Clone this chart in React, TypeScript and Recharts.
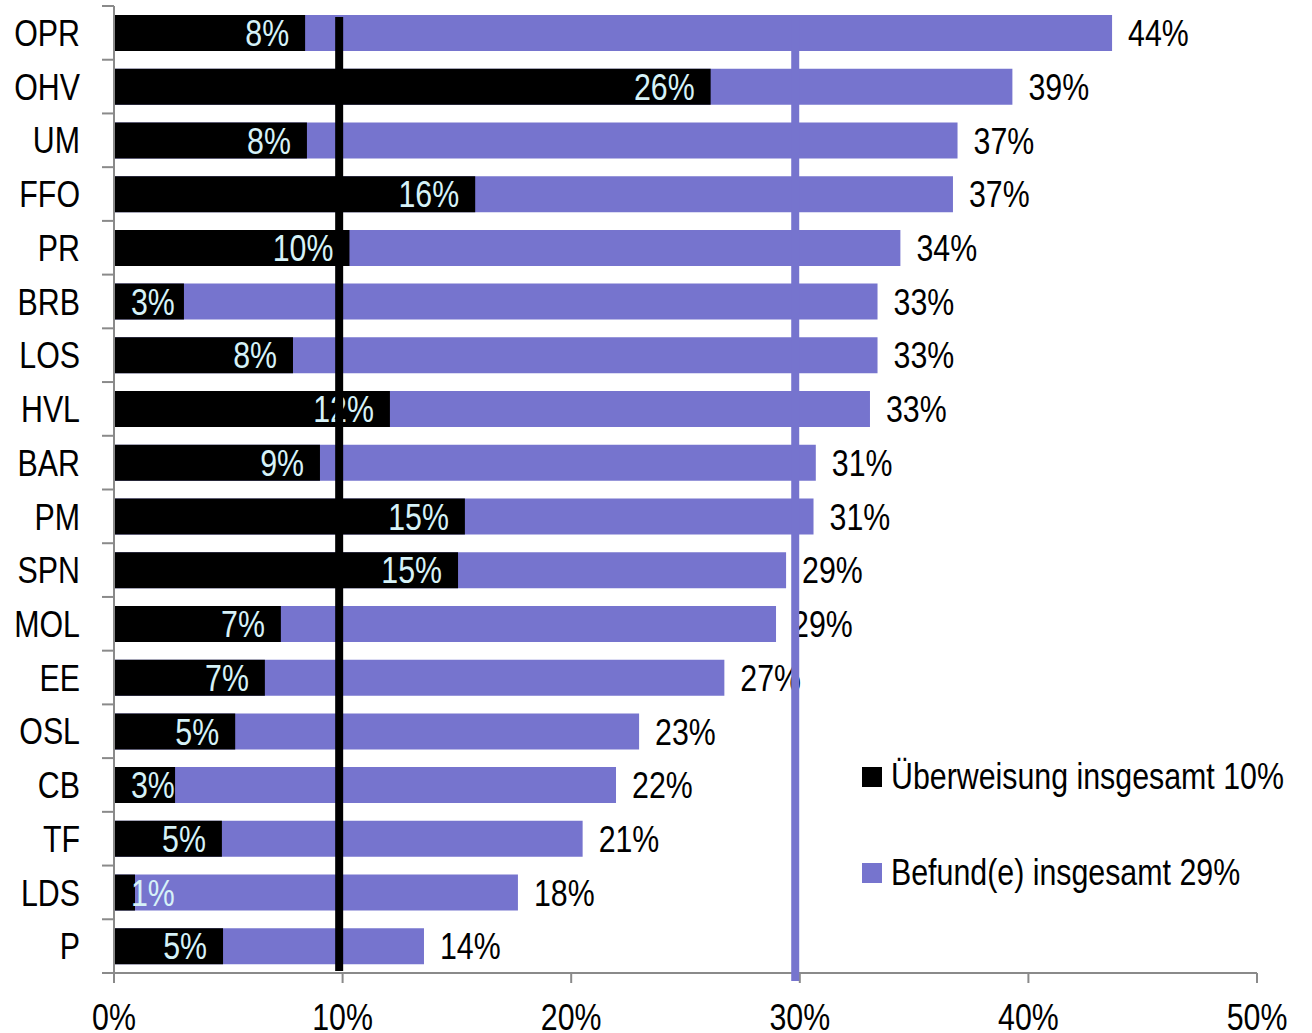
import React from "react";
import {
  BarChart,
  Bar,
  XAxis,
  YAxis,
  ReferenceLine,
  LabelList,
  Legend,
} from "recharts";

const categories = ["OPR", "OHV", "UM", "FFO", "PR", "BRB", "LOS", "HVL", "BAR", "PM", "SPN", "MOL", "EE", "OSL", "CB", "TF", "LDS", "P"];
const ueberweisung = [8.36, 26.1, 8.44, 15.8, 10.3, 3.06, 7.83, 12.07, 9.01, 15.35, 15.05, 7.3, 6.6, 5.3, 2.67, 4.72, 0.92, 4.77];
const befund = [43.66, 39.3, 36.9, 36.7, 34.4, 33.4, 33.4, 33.07, 30.7, 30.6, 29.4, 28.96, 26.7, 22.97, 21.96, 20.5, 17.67, 13.56];
const xTicks = [0, 10, 20, 30, 40, 50];
const seriesNames = ["Überweisung insgesamt 10%", "Befund(e) insgesamt 29%"];
const avgUeberweisung = 9.85;
const avgBefund = 29.8;

const data = categories.map((name, i) => ({ name, u: ueberweisung[i], b: befund[i] }));

const FONT = "'Liberation Sans', Arial, sans-serif";
const FS = 37;
const SX = 0.82;
const PURPLE = "#7674CE";
const AXIS = "#8a8a8a";
const LIGHT = "#D6F2F8";

const pct = (v: number) => `${Math.round(v)}%`;

const NText = ({ x, y, anchor, fill, dy, children }: any) => (
  <g transform={`translate(${x},${y}) scale(${SX},1)`}>
    <text x={0} y={0} dy={dy} textAnchor={anchor} fill={fill} fontSize={FS} fontFamily={FONT}>
      {children}
    </text>
  </g>
);

const YTick = (props: any) => {
  const { x, y, payload, index } = props;
  const half = payload && payload.offset ? payload.offset : 26.86;
  const ax = x + 22;
  return (
    <g>
      <line x1={ax} x2={ax + 12} y1={y - half} y2={y - half} stroke={AXIS} strokeWidth={2} />
      {index === categories.length - 1 && (
        <line x1={ax} x2={ax + 12} y1={y + half} y2={y + half} stroke={AXIS} strokeWidth={2} />
      )}
      <NText x={x} y={y} dy="0.355em" anchor="end" fill="#000">
        {payload.value}
      </NText>
    </g>
  );
};

const XTick = (props: any) => {
  const { x, y, payload } = props;
  return (
    <NText x={x} y={y} dy="0.71em" anchor="middle" fill="#000">
      {`${payload.value}%`}
    </NText>
  );
};

const InsideLabel = (props: any) => {
  const { x, y, width, height, value } = props;
  const txt = pct(value);
  const tw = ((txt.length - 1) * 0.556 * FS + 0.889 * FS) * SX;
  const tx = Math.max(x + width - 16 - tw, x + 17);
  return (
    <NText x={tx} y={y + height / 2} dy="0.355em" anchor="start" fill={LIGHT}>
      {txt}
    </NText>
  );
};

const OutsideLabel = (props: any) => {
  const { x, y, width, height, value } = props;
  return (
    <NText x={x + width + 16} y={y + height / 2} dy="0.355em" anchor="start" fill="#000">
      {pct(value)}
    </NText>
  );
};

const refShape = (top: number, bottom: number) => (p: any) => {
  const y1 = Math.min(p.y1, p.y2);
  const y2 = Math.max(p.y1, p.y2);
  return <line x1={p.x1} x2={p.x2} y1={y1 + top} y2={y2 + bottom} stroke={p.stroke} strokeWidth={p.strokeWidth} />;
};

const LegendContent = () => (
  <div style={{ fontFamily: FONT, fontSize: FS, color: "#000" }}>
    {[{ c: "#000", n: seriesNames[0] }, { c: PURPLE, n: seriesNames[1] }].map((it, i) => (
      <div key={i} style={{ display: "flex", alignItems: "center", height: 44, marginBottom: i === 0 ? 52 : 0, whiteSpace: "nowrap" }}>
        <div style={{ width: 20, height: 20, background: it.c, marginRight: 9, flex: "none" }} />
        <span style={{ display: "inline-block", transform: `scaleX(${SX})`, transformOrigin: "left center" }}>{it.n}</span>
      </div>
    ))}
  </div>
);

export default function App() {
  return (
    <div style={{ position: "absolute", left: 0, top: 0 }}>
      <BarChart
        width={1312}
        height={1033}
        data={data}
        layout="vertical"
        margin={{ top: 6, right: 55, left: 0, bottom: 0 }}
        barSize={36}
        barGap={-36}
      >
        <XAxis
          type="number"
          domain={[0, 50]}
          ticks={xTicks}
          height={60}
          tickSize={10}
          tickMargin={21}
          axisLine={{ stroke: AXIS, strokeWidth: 2 }}
          tickLine={{ stroke: AXIS, strokeWidth: 2 }}
          tick={<XTick />}
          interval={0}
        />
        <YAxis
          type="category"
          dataKey="name"
          width={114}
          tickSize={12}
          tickMargin={22}
          tickLine={false}
          axisLine={{ stroke: AXIS, strokeWidth: 2 }}
          tick={<YTick />}
          interval={0}
        />
        <Bar dataKey="b" name={seriesNames[1]} fill={PURPLE} isAnimationActive={false}>
          <LabelList dataKey="b" content={<OutsideLabel />} />
        </Bar>
        <Bar dataKey="u" name={seriesNames[0]} fill="#000" isAnimationActive={false}>
          <LabelList dataKey="u" content={<InsideLabel />} />
        </Bar>
        <ReferenceLine x={avgUeberweisung} stroke="#000" strokeWidth={8} shape={refShape(11, -2)} zIndex={2500} />
        <ReferenceLine x={avgBefund} stroke={PURPLE} strokeWidth={8} shape={refShape(11, 8)} zIndex={2500} />
        <Legend
          layout="vertical"
          align="center"
          verticalAlign="middle"
          content={<LegendContent />}
          wrapperStyle={{ position: "absolute", left: 862, top: 755, width: 450, bottom: "auto", right: "auto" }}
        />
      </BarChart>
    </div>
  );
}
